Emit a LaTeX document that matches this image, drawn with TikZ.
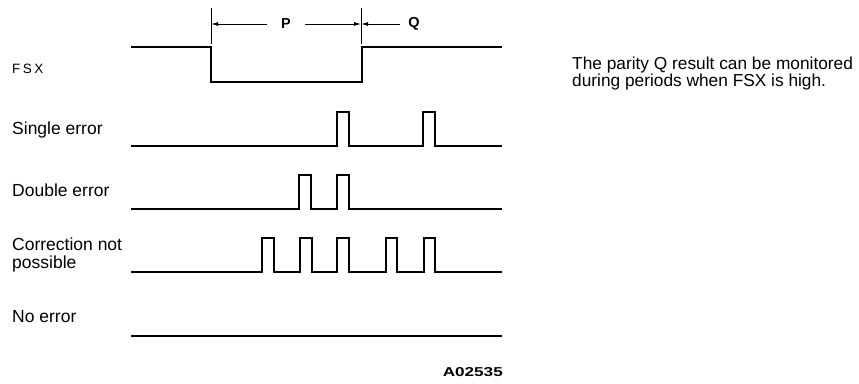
\documentclass[tikz,border=0pt]{standalone}
\usepackage{fontspec}
\setmainfont{Liberation Sans}
\usetikzlibrary{arrows.meta}
\begin{document}
\begin{tikzpicture}[x=1pt,y=-1pt,
  wave/.style={line width=1.5pt,line join=miter},
  dim/.style={line width=0.9pt},
  tick/.style={line width=1pt},
  lbl/.style={anchor=base west,inner sep=0pt,font=\fontsize{17.5}{20}\selectfont},
  note/.style={anchor=base west,inner sep=0pt,align=left,font=\fontsize{17.3}{16.5}\selectfont},
  fsxlbl/.style={anchor=base west,inner sep=0pt,font=\fontsize{13.5}{14}\selectfont\addfontfeatures{LetterSpace=18}},
  dimlbl/.style={inner sep=0pt,font=\fontsize{14.5}{16}\selectfont\bfseries}
]
\useasboundingbox (0,0) rectangle (859,383);

% labels
\node[fsxlbl] (lfsx) at (12,73) {FSX};
\node[lbl] (lse) at (12,134) {Single error};
\node[lbl] (lde) at (12,196) {Double error};
\node[lbl] (lcn) at (12,250) {Correction not};
\node[lbl] (lcp) at (12,268) {possible};
\node[lbl] (lne) at (12,322) {No error};

\node[note] (note1) at (572,69) {The parity Q result can be monitored};
\node[note] (note2) at (572,86) {during periods when FSX is high.};

% FSX waveform
\draw[wave] (131,47) -- (211,47) -- (211,82) -- (362,82) -- (362,47) -- (502,47);

% dimension markers
\coordinate (t1a) at (211,8);
\coordinate (t1b) at (211,44);
\coordinate (t2a) at (361,8);
\coordinate (t2b) at (361,44);
\draw[tick] (t1a) -- (t1b);
\draw[tick] (t2a) -- (t2b);
\node[dimlbl] (p) at (286,24) {P};
\node[dimlbl] (q) at (414,24) {Q};
\coordinate (pl) at (267,24);
\coordinate (pr) at (305,24);
\coordinate (ql) at (400,24);
\draw[dim,-{Latex[length=7pt,width=4pt]}] (pl) -- (211,24);
\draw[dim,-{Latex[length=7pt,width=4pt]}] (pr) -- (361,24);
\draw[dim,-{Latex[length=7pt,width=4pt]}] (ql) -- (361,24);

% Single error
\draw[wave] (131,146) -- (337,146) -- (337,112) -- (349,112) -- (349,146)
  -- (423,146) -- (423,112) -- (435,112) -- (435,146) -- (502,146);

% Double error
\draw[wave] (131,209) -- (299,209) -- (299,175) -- (311,175) -- (311,209)
  -- (337,209) -- (337,175) -- (349,175) -- (349,209) -- (502,209);

% Correction not possible
\draw[wave] (131,272) -- (262,272) -- (262,238) -- (274,238) -- (274,272)
  -- (300,272) -- (300,238) -- (312,238) -- (312,272)
  -- (337,272) -- (337,238) -- (349,238) -- (349,272)
  -- (386,272) -- (386,238) -- (397,238) -- (397,272)
  -- (424,272) -- (424,238) -- (435,238) -- (435,272) -- (502,272);

% No error
\draw[wave] (131,336) -- (502,336);

% figure code
\node[anchor=base east,inner sep=0pt] (code) at (503,376)
  {\resizebox{60pt}{9pt}{\bfseries A02535}};
\end{tikzpicture}
\end{document}
